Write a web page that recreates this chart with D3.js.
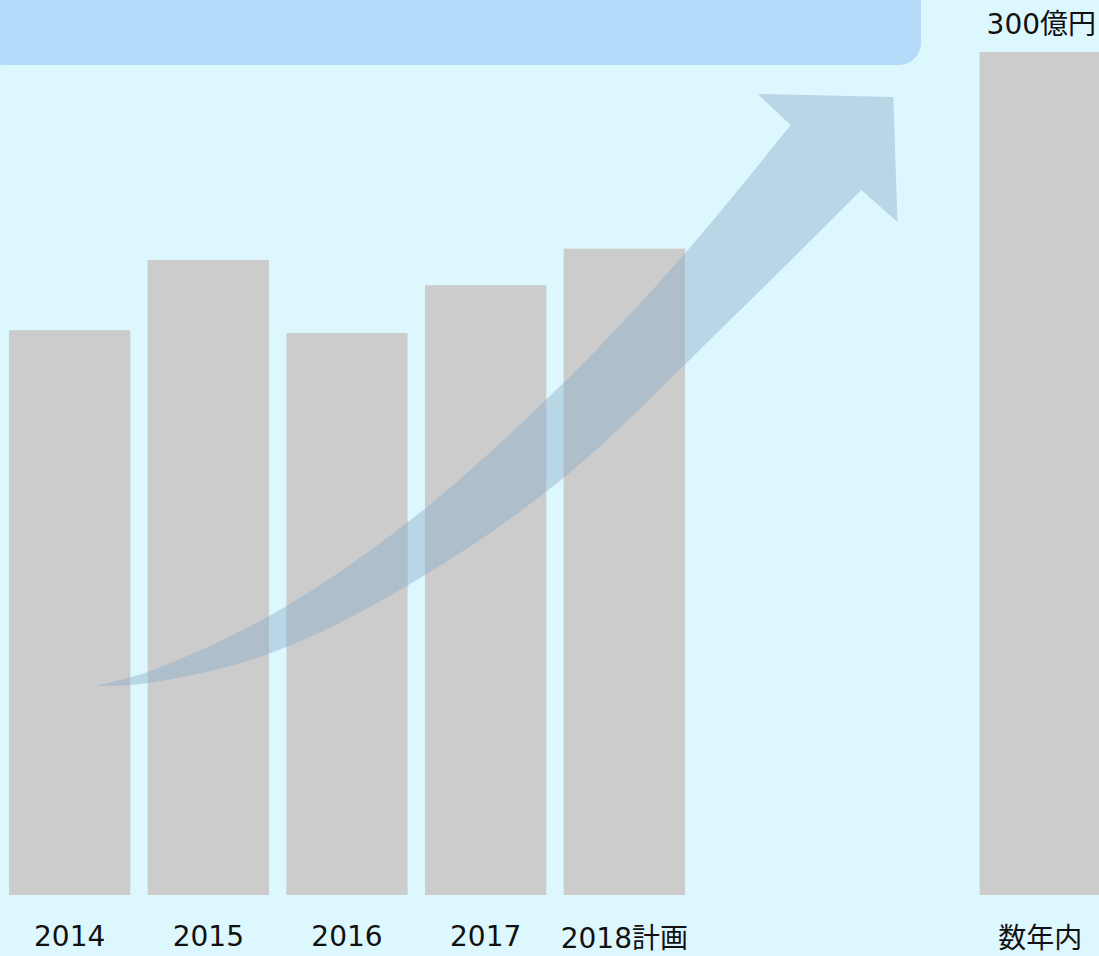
<!DOCTYPE html>
<meta charset="utf-8">
<style>
body { margin: 0; background: #ddf7fe; }
svg { display: block; }
.label { font-family: "DejaVu Sans", "Noto Sans CJK JP", sans-serif; font-size: 28px; fill: #111; }
</style>
<svg width="1099" height="956"></svg>
<script src="https://d3js.org/d3.v7.min.js"></script>
<script>

// categories (two empty slots sit between the plan year and the target)
var categories = ["2014", "2015", "2016", "2017", "2018計画", "", " ", "数年内"];
var barLabels  = ["2014", "2015", "2016", "2017", "2018計画", "数年内"];
var sales      = [201, 226, 200, 217, 230, 300];   // 億円
var topLabel   = "300億円";

// the decorative growth arrow, in (slot index, 億円) units
var arrowUpper = [[0.18, 74.4], [0.56, 79.4], [1.45, 99.6], [2.46, 133.5], [3.56, 182.2], [4.44, 228.5], [5.2, 274.0]];
var arrowHead  = [[4.96, 285.1], [5.94, 284.0], [5.97, 239.5], [5.71, 250.9]];
var arrowLower = [[5.71, 250.9], [4.69, 201.1], [3.56, 148.4], [2.48, 111.4], [1.45, 86.1], [0.56, 75.4], [0.18, 74.4]];

var svg = d3.select("svg"),
  width = +svg.attr("width"),
  height = +svg.attr("height");

svg.append("rect")
  .attr("width", width).attr("height", height)
  .attr("fill", "#ddf7fe");

// banner cut off at the top
svg.append("rect")
  .attr("x", -18).attr("y", -60)
  .attr("width", 939).attr("height", 125)
  .attr("rx", 22)
  .attr("fill", "#b5dbfa");

var x = d3.scaleBand()
  .domain(categories)
  .range([9, 1101])
  .paddingInner(0.125)
  .paddingOuter(0);

var y = d3.scaleLinear()
  .domain([0, 300])
  .range([895, 52]);

var bars = barLabels.map(function(c, i) { return {cat: c, value: sales[i]}; });

svg.append("g")
  .selectAll("rect")
  .data(bars)
  .enter().append("rect")
  .attr("x", function(d) { return x(d.cat); })
  .attr("y", function(d) { return y(d.value); })
  .attr("width", x.bandwidth())
  .attr("height", function(d) { return y(0) - y(d.value); })
  .attr("fill", "#cccccc");

// category labels under the bars
svg.append("g")
  .selectAll("text")
  .data(bars)
  .enter().append("text")
  .attr("class", "label")
  .attr("text-anchor", "middle")
  .attr("x", function(d) { return x(d.cat) + x.bandwidth() / 2; })
  .attr("y", function(d) { return /[^\x00-\x7f]/.test(d.cat) ? 948 : 946; })
  .text(function(d) { return d.cat; });

// value on top of the target bar
var last = bars[bars.length - 1];
svg.append("text")
  .attr("class", "label")
  .attr("text-anchor", "middle")
  .attr("x", x(last.cat) + x.bandwidth() / 2 + 1)
  .attr("y", y(last.value) - 18)
  .text(topLabel);

// arrow
var slot = d3.scaleLinear()
  .domain([0, categories.length - 1])
  .range([x(categories[0]) + x.bandwidth() / 2, x(categories[categories.length - 1]) + x.bandwidth() / 2]);

var curve = d3.line()
  .x(function(d) { return slot(d[0]); })
  .y(function(d) { return y(d[1]); })
  .curve(d3.curveCatmullRom.alpha(0.5));

var headPath = arrowHead.map(function(d) { return "L" + slot(d[0]) + "," + y(d[1]); }).join("");
var arrowPath = curve(arrowUpper) + headPath + curve(arrowLower).replace(/^M/, "L") + "Z";

svg.append("path")
  .attr("d", arrowPath)
  .attr("fill", "#8dafca")
  .attr("fill-opacity", 0.46);

</script>
